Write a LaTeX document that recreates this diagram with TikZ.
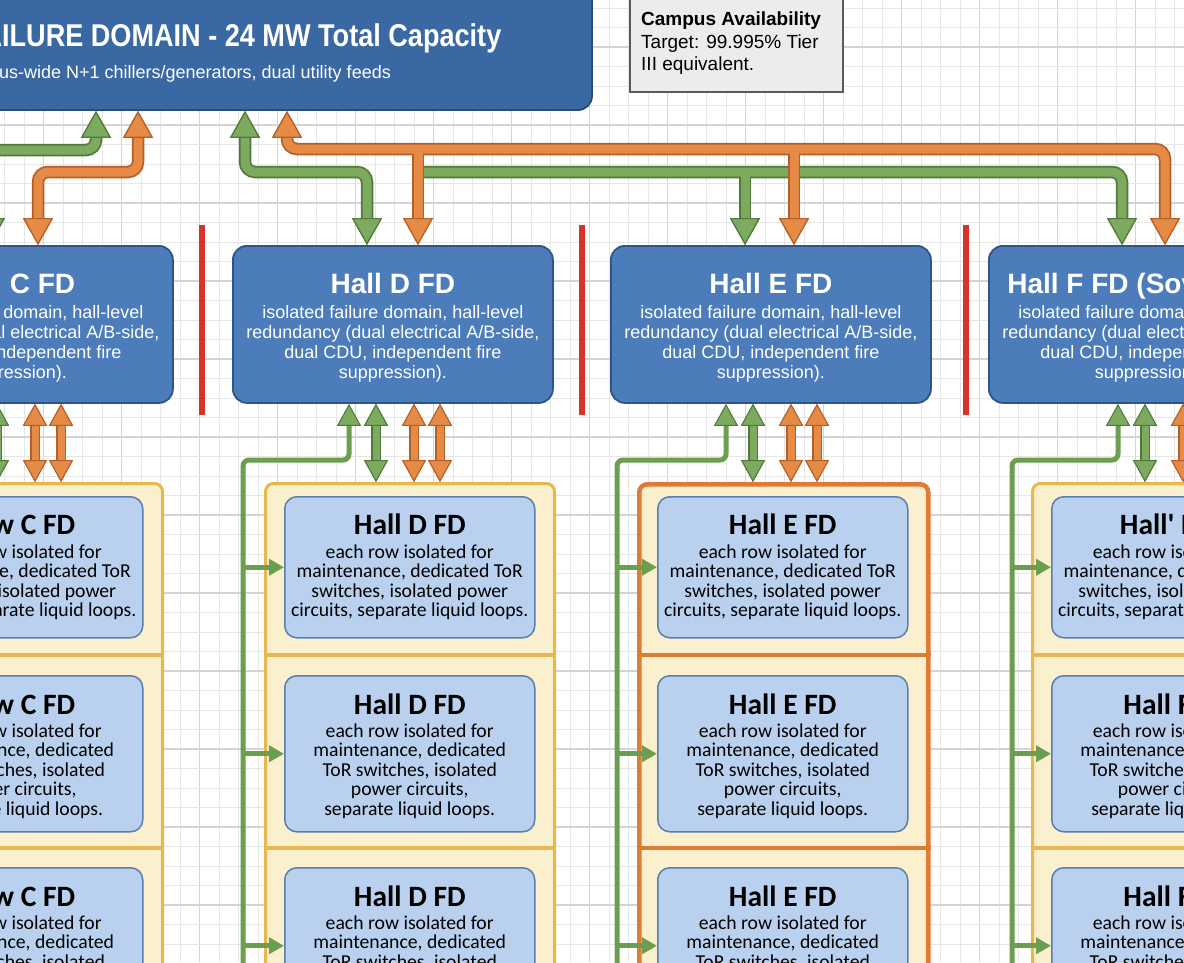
\documentclass[tikz,border=0pt]{standalone}
\usepackage{fontspec}
\setmainfont{Liberation Sans}
\newfontfamily\rowfont{Carlito}
\newfontfamily\condfont[FakeStretch=0.86]{Liberation Sans}
\usetikzlibrary{arrows.meta,calc}

\definecolor{campfill}{HTML}{3A68A2}
\definecolor{campdraw}{HTML}{2A4C7A}
\definecolor{hallfill}{HTML}{4C7CBA}
\definecolor{halldraw}{HTML}{2E5587}
\definecolor{rowfill}{HTML}{B9D1EE}
\definecolor{rowdraw}{HTML}{5A7EAE}
\definecolor{contfill}{HTML}{FBF0CD}
\definecolor{contdraw}{HTML}{E9B84C}
\definecolor{contE}{HTML}{E07A35}
\definecolor{gfill}{HTML}{7CAA5E}
\definecolor{gdark}{HTML}{52793A}
\definecolor{gline}{HTML}{6B9E4E}
\definecolor{ofill}{HTML}{E68B45}
\definecolor{odark}{HTML}{B35F28}
\definecolor{redbar}{HTML}{D8322B}
\definecolor{availfill}{HTML}{ECECEC}
\definecolor{availdraw}{HTML}{5A5A5A}
\definecolor{gridminor}{HTML}{E6E6E6}
\definecolor{gridmajor}{HTML}{D4D4D4}

\tikzset{
  GreenTip/.tip={Triangle[width=30pt,length=27pt,line width=1.2pt,fill=gfill,color=gdark]},
  OrangeTip/.tip={Triangle[width=30pt,length=27pt,line width=1.2pt,fill=ofill,color=odark]},
  GreenTipS/.tip={Triangle[width=24pt,length=22pt,line width=1pt,fill=gfill,color=gdark]},
  OrangeTipS/.tip={Triangle[width=24pt,length=22pt,line width=1pt,fill=ofill,color=odark]},
  FeedTip/.tip={Triangle[width=16pt,length=15pt,fill=gline,color=gline]},
  gOut/.style={draw=gdark,line width=12.5pt},
  gIn/.style={draw=gfill,line width=9pt},
  oOut/.style={draw=odark,line width=12.5pt},
  oIn/.style={draw=ofill,line width=9pt},
  gOutS/.style={draw=gdark,line width=10pt},
  gInS/.style={draw=gfill,line width=7pt},
  oOutS/.style={draw=odark,line width=10pt},
  oInS/.style={draw=ofill,line width=7pt},
  feedS/.style={draw=gline,line width=5pt},
  campS/.style={draw=campdraw,line width=1.8pt,fill=campfill,rounded corners=14pt,minimum width=840pt,minimum height=140pt,inner sep=0pt},
  campT/.style={text=white,font=\condfont\bfseries\fontsize{31.5}{34}\selectfont,inner sep=0pt},
  campB/.style={text=white,font=\fontsize{18}{20}\selectfont,inner sep=0pt},
  availS/.style={draw=availdraw,line width=1.6pt,fill=availfill,minimum width=213pt,minimum height=111pt,inner sep=0pt},
  availT/.style={font=\fontsize{19}{22}\selectfont,inner sep=0pt},
  redS/.style={fill=redbar,minimum width=6pt,minimum height=190pt,inner sep=0pt},
  hallS/.style={draw=halldraw,line width=1.8pt,fill=hallfill,rounded corners=14pt,minimum width=320pt,minimum height=157pt,inner sep=0pt},
  hallT/.style={text=white,font=\bfseries\fontsize{28}{32}\selectfont,inner sep=0pt},
  hallB/.style={text=white,font=\fontsize{18}{20}\selectfont,align=center,inner sep=0pt},
  contY/.style={draw=contdraw,line width=3pt},
  contO/.style={draw=contE,line width=4.5pt},
  contS/.style={fill=contfill,rounded corners=8pt,minimum width=289pt,minimum height=560pt,inner sep=0pt},
  rowS/.style={draw=rowdraw,line width=1.5pt,fill=rowfill,rounded corners=12pt,minimum width=250pt,inner sep=0pt},
  rowT/.style={font=\rowfont\bfseries\fontsize{29.5}{32}\selectfont,inner sep=0pt},
  rowB/.style={font=\rowfont\fontsize{19.7}{19.5}\selectfont,align=center,inner sep=0pt},
}

% #1 id, #2 hall left x, #3 hall title, #4 container left x, #5 container style,
% #6 row title 1, #7 row title 2/3, #8 feed x, #9 x of green up arrow
\newcommand{\hallcolumn}[9]{%
  \node[hallS,anchor=north west] (h#1) at (#2,245) {};
  \node[hallT,anchor=base] (h#1t) at ($(h#1.north)+(0,48)$) {#3};
  \node[hallB] (h#1b) at ($(h#1.north)+(0,99)$) {isolated failure domain, hall-level\\redundancy (dual electrical A/B-side,\\dual CDU, independent fire\\suppression).};
  \node[contS,#5,anchor=north west] (c#1) at (#4,482) {};
  \draw[#5,line width=4.5pt] ([yshift=-173pt]c#1.north west) -- ([yshift=-173pt]c#1.north east);
  \draw[#5,line width=4.5pt] ([yshift=-366pt]c#1.north west) -- ([yshift=-366pt]c#1.north east);
  \pgfmathsetmacro\rx{#4+20}
  \node[rowS,minimum height=141pt,anchor=north west] (r#1a) at (\rx,496) {};
  \node[rowS,minimum height=156pt,anchor=north west] (r#1b) at (\rx,675) {};
  \node[rowS,minimum height=156pt,anchor=north west] (r#1c) at (\rx,867) {};
  \node[rowT,anchor=base] (r#1at) at ($(r#1a.north)+(0,38.5)$) {#6};
  \node[rowB] (r#1ab) at ($(r#1a.north)+(0,86)$) {each row isolated for\\maintenance, dedicated ToR\\switches, isolated power\\circuits, separate liquid loops.};
  \node[rowT,anchor=base] (r#1bt) at ($(r#1b.north)+(0,39.5)$) {#7};
  \node[rowB] (r#1bb) at ($(r#1b.north)+(0,96)$) {each row isolated for\\maintenance, dedicated\\ToR switches, isolated\\power circuits,\\separate liquid loops.};
  \node[rowT,anchor=base] (r#1ct) at ($(r#1c.north)+(0,39.5)$) {#7};
  \node[rowB] (r#1cb) at ($(r#1c.north)+(0,96)$) {each row isolated for\\maintenance, dedicated\\ToR switches, isolated\\power circuits,\\separate liquid loops.};
  \pgfmathsetmacro\xa{#9}
  \pgfmathsetmacro\xb{#9+27}
  \pgfmathsetmacro\xc{#9+65}
  \pgfmathsetmacro\xd{#9+91}
  \draw[feedS,rounded corners=6pt,-{GreenTipS}] (#8,1000) -- (#8,460) -- (\xa,460) -- (\xa,0 |- h#1.south);
  \foreach \r in {a,b,c} {\draw[feedS,-{FeedTip}] (#8,0 |- r#1\r.west) -- (r#1\r.west);}
  \draw[gOutS,{GreenTipS}-{GreenTipS}] (\xb,0 |- h#1.south) -- (\xb,0 |- c#1.north);
  \draw[gInS,{GreenTipS}-{GreenTipS}] (\xb,0 |- h#1.south) -- (\xb,0 |- c#1.north);
  \draw[oOutS,{OrangeTipS}-{OrangeTipS}] (\xc,0 |- h#1.south) -- (\xc,0 |- c#1.north);
  \draw[oInS,{OrangeTipS}-{OrangeTipS}] (\xc,0 |- h#1.south) -- (\xc,0 |- c#1.north);
  \draw[oOutS,{OrangeTipS}-{OrangeTipS}] (\xd,0 |- h#1.south) -- (\xd,0 |- c#1.north);
  \draw[oInS,{OrangeTipS}-{OrangeTipS}] (\xd,0 |- h#1.south) -- (\xd,0 |- c#1.north);
}

\begin{document}
\begin{tikzpicture}[x=1pt,y=-1pt]
\useasboundingbox (0,0) rectangle (1184,962);
\clip (0,0) rectangle (1184,962);
\fill[white] (0,0) rectangle (1184,962);
% grid
\foreach \i in {0,...,61} {
  \pgfmathsetmacro\gx{4.8+\i*19.5}
  \pgfmathtruncatemacro\m{mod(\i,4)}
  \ifnum\m=2 \draw[gridmajor,line width=1.1pt] (\gx,0) -- (\gx,962);
  \else \draw[gridminor,line width=0.7pt] (\gx,0) -- (\gx,962); \fi
}
\foreach \i in {0,...,50} {
  \pgfmathsetmacro\gy{8+\i*19.5}
  \pgfmathtruncatemacro\m{mod(\i,4)}
  \ifnum\m=2 \draw[gridmajor,line width=1.1pt] (0,\gy) -- (1184,\gy);
  \else \draw[gridminor,line width=0.7pt] (0,\gy) -- (1184,\gy); \fi
}

% campus
\node[campS] (campus) at (172,40) {};
\node[campT,anchor=base] (campusT) at (172,46) {CAMPUS FAILURE DOMAIN - 24 MW Total Capacity};
\node[campB,anchor=base] (campusB) at (171,78) {Campus-wide N+1 chillers/generators, dual utility feeds};

% availability note
\node[availS,anchor=north west] (avail) at (629,-20) {};
\node[availT,anchor=base west] (avail1) at (641,25) {\bfseries Campus Availability};
\node[availT,anchor=base west] (avail2) at (641,48) {Target: 99.995\% Tier};
\node[availT,anchor=base west] (avail3) at (641,70) {III equivalent.};

% red separators
\node[redS] (sep1) at (202,320) {};
\node[redS] (sep2) at (582,320) {};
\node[redS] (sep3) at (966,320) {};

% columns
\hallcolumn{C}{-148}{Hall C FD}{-128}{contY}{Row C FD}{Row C FD}{-149}{-30}
\hallcolumn{D}{232}{Hall D FD}{264}{contY}{Hall D FD}{Hall D FD}{243}{349}
\hallcolumn{E}{610}{Hall E FD}{637}{contO}{Hall E FD}{Hall E FD}{617}{726}
\hallcolumn{F}{988}{Hall F FD (Sovereign)}{1031}{contY}{Hall' F FD}{Hall F FD}{1012}{1118}

% top connectors: green outlines
\draw[gOut,rounded corners=10pt,-{GreenTip}] (-40,150) -- (96,150) -- (96,0 |- campus.south);
\draw[gOut,rounded corners=10pt,{GreenTip}-{GreenTip}] (245,0 |- campus.south) -- (245,172) -- (367,172) -- (367,0 |- hD.north);
\draw[gOut,rounded corners=10pt,-{GreenTip}] (418,172) -- (1122,172) -- (1122,0 |- hF.north);
\draw[gOut,-{GreenTip}] (745,172) -- (745,0 |- hE.north);
\draw[gOut,rounded corners=10pt,-{GreenTip}] (-60,172) -- (-10,172) -- (-10,0 |- hC.north);
% green fills
\draw[gIn,rounded corners=10pt,-{GreenTip}] (-40,150) -- (96,150) -- (96,0 |- campus.south);
\draw[gIn,rounded corners=10pt,{GreenTip}-{GreenTip}] (245,0 |- campus.south) -- (245,172) -- (367,172) -- (367,0 |- hD.north);
\draw[gIn,rounded corners=10pt,-{GreenTip}] (418,172) -- (1122,172) -- (1122,0 |- hF.north);
\draw[gIn,-{GreenTip}] (745,172) -- (745,0 |- hE.north);
\draw[gIn,rounded corners=10pt,-{GreenTip}] (-60,172) -- (-10,172) -- (-10,0 |- hC.north);
% orange outlines
\draw[oOut,rounded corners=10pt,{OrangeTip}-{OrangeTip}] (38,0 |- hC.north) -- (38,172) -- (138,172) -- (138,0 |- campus.south);
\draw[oOut,rounded corners=10pt,{OrangeTip}-{OrangeTip}] (287,0 |- campus.south) -- (287,149) -- (1165,149) -- (1165,0 |- hF.north);
\draw[oOut,-{OrangeTip}] (418,149) -- (418,0 |- hD.north);
\draw[oOut,-{OrangeTip}] (794,149) -- (794,0 |- hE.north);
% orange fills
\draw[oIn,rounded corners=10pt,{OrangeTip}-{OrangeTip}] (38,0 |- hC.north) -- (38,172) -- (138,172) -- (138,0 |- campus.south);
\draw[oIn,rounded corners=10pt,{OrangeTip}-{OrangeTip}] (287,0 |- campus.south) -- (287,149) -- (1165,149) -- (1165,0 |- hF.north);
\draw[oIn,-{OrangeTip}] (418,149) -- (418,0 |- hD.north);
\draw[oIn,-{OrangeTip}] (794,149) -- (794,0 |- hE.north);
\end{tikzpicture}
\end{document}
